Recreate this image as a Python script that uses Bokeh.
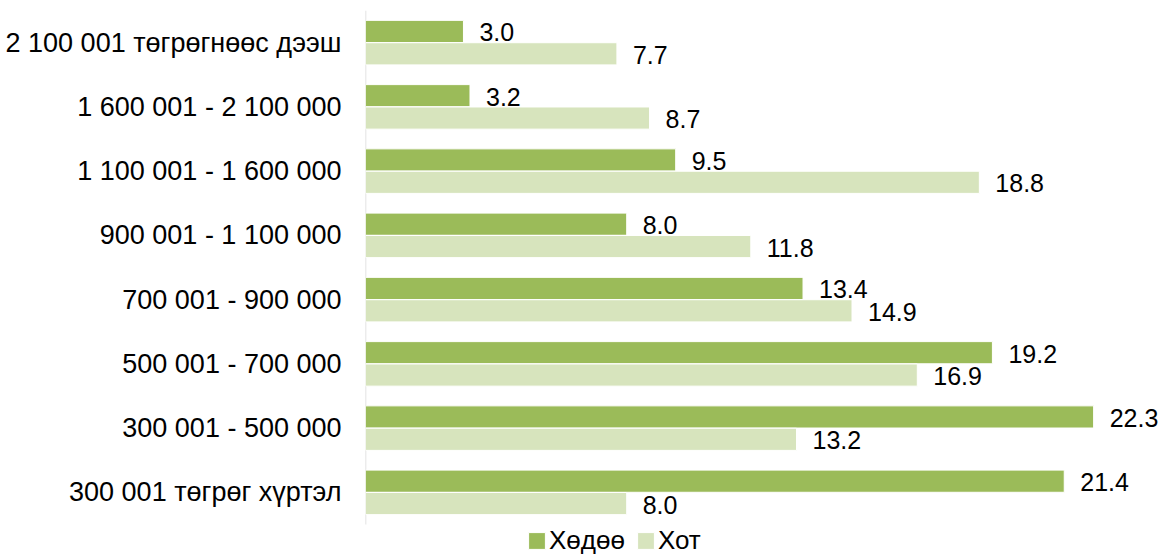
from bokeh.plotting import figure
from bokeh.models import ColumnDataSource, Range1d, FixedTicker, LabelSet, Legend, LegendItem
from bokeh.core.properties import value
from bokeh.embed import file_html
from bokeh.resources import INLINE

categories = [
    "2 100 001 төгрөгнөөс дээш",
    "1 600 001 - 2 100 000",
    "1 100 001 - 1 600 000",
    "900 001 - 1 100 000",
    "700 001 - 900 000",
    "500 001 - 700 000",
    "300 001 - 500 000",
    "300 001 төгрөг хүртэл",
]
rural = [3.0, 3.2, 9.5, 8.0, 13.4, 19.2, 22.3, 21.4]   # Хөдөө
urban = [7.7, 8.7, 18.8, 11.8, 14.9, 16.9, 13.2, 8.0]  # Хот
series_names = ["Хөдөө", "Хот"]

n = len(categories)
ypos = [n - 1 - i for i in range(n)]
bar_h = 0.345
off = 0.174

src_r = ColumnDataSource(dict(y=[v + off for v in ypos], x=rural,
                              lab=[f"{v:.1f}" for v in rural]))
src_u = ColumnDataSource(dict(y=[v - off for v in ypos], x=urban,
                              lab=[f"{v:.1f}" for v in urban]))

FONT = "Liberation Sans"

band_px = 514 / n
extra = 32 / band_px

p = figure(width=1163, height=556, output_backend="svg", toolbar_location=None,
           x_range=Range1d(0, 24.44), y_range=Range1d(-0.5 - extra, n - 0.5),
           min_border_left=365, min_border_right=0, min_border_top=10,
           min_border_bottom=0)
p.outline_line_color = None
p.xgrid.visible = False
p.ygrid.visible = False
p.xaxis.visible = False
p.background_fill_color = "white"

# category axis line (only spanning the categories)
p.segment(x0=[0], y0=[-0.5], x1=[0], y1=[n - 0.5], line_color="#D9D9D9", line_width=1.5)

r1 = p.hbar(y="y", right="x", left=0, height=bar_h, source=src_r,
            fill_color="#9BBB59", line_color="white", line_width=1)
r2 = p.hbar(y="y", right="x", left=0, height=bar_h, source=src_u,
            fill_color="#D7E4BD", line_color="white", line_width=1)

for s in (src_r, src_u):
    p.add_layout(LabelSet(x="x", y="y", text="lab", source=s, x_offset=16, y_offset=-1,
                          text_font=value(FONT), text_font_size=value("25px"),
                          text_color="black",
                          text_baseline="middle", text_align="left"))

ax = p.yaxis[0]
ax.ticker = FixedTicker(ticks=ypos)
ax.major_label_overrides = {y: c for y, c in zip(ypos, categories)}
ax.major_label_text_font = FONT
ax.major_label_text_font_size = "27px"
ax.major_label_text_color = "black"
ax.major_tick_line_color = None
ax.minor_tick_line_color = None
ax.axis_line_color = None
ax.major_label_standoff = 18

legend = Legend(items=[LegendItem(label=series_names[0], renderers=[r1]),
                       LegendItem(label=series_names[1], renderers=[r2])],
                location=(161, 0), orientation="horizontal",
                padding=0, margin=0, spacing=10, label_standoff=2,
                glyph_width=21, glyph_height=21, label_height=21,
                label_text_font=FONT, label_text_font_size="26px",
                label_text_color="black", border_line_color=None,
                background_fill_alpha=0)
p.add_layout(legend, "center")

open("out.html", "w").write(file_html(p, INLINE))
